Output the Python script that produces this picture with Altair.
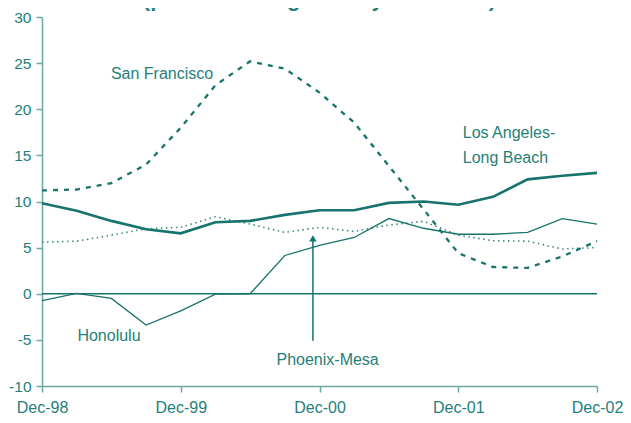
import json
import altair as alt
import pandas as pd

# ---- data ----
quarters = list(range(17))  # Dec-98 ... Dec-02, quarterly
tick_labels = ["Dec-98", "Dec-99", "Dec-00", "Dec-01", "Dec-02"]
tick_positions = [0, 4, 8, 12, 16]
y_ticks = [-10, -5, 0, 5, 10, 15, 20, 25, 30]

san_francisco = [11.2, 11.3, 12.0, 14.0, 18.0, 22.6, 25.2, 24.4, 21.8, 18.55, 13.85, 9.15, 4.4, 2.9, 2.8, 4.05, 5.7]
los_angeles = [9.8, 9.0, 7.9, 7.0, 6.55, 7.75, 7.9, 8.55, 9.05, 9.05, 9.85, 10.0, 9.65, 10.5, 12.4, 12.8, 13.1]
honolulu = [-0.75, 0.05, -0.5, -3.4, -1.85, -0.05, 0.0, 4.15, 5.25, 6.1, 8.15, 7.1, 6.45, 6.45, 6.65, 8.15, 7.55]
phoenix = [5.6, 5.7, 6.35, 7.05, 7.2, 8.35, 7.55, 6.65, 7.2, 6.75, 7.45, 7.85, 6.35, 5.75, 5.7, 4.85, 5.0]

label_text = ["San Francisco", "Los Angeles-", "Long Beach", "Honolulu", "Phoenix-Mesa"]
label_q = [3.46, 12.13, 12.13, 1.02, 6.76]
label_v = [23.25, 16.88, 14.2, -5.09, -7.72]
label_align = ["center", "left", "left", "left", "left"]

arrow_q = [7.81]
arrow_from = [-5.09]
arrow_to = [6.0]

title_text = "(percent change over year earlier)"

TEAL = "#17736c"
TEXT = "#25807a"
AXIS = "#6ea8a3"
FONT = "Liberation Sans"

label_expr = json.dumps(tick_labels) + "[datum.value / 4]"

x_enc = alt.X(
    "q:Q",
    scale=alt.Scale(domain=[0, 16], nice=False, zero=False),
    axis=alt.Axis(values=tick_positions, labelExpr=label_expr, title=None, grid=False,
                  tickSize=6, labelPadding=7, labelFontSize=16, labelFont=FONT,
                  labelColor=TEXT, domainColor=AXIS, tickColor=AXIS, domainWidth=1.5,
                  tickWidth=1.5, labelOverlap=False, labelFlush=False),
)
y_enc = alt.Y(
    "v:Q",
    scale=alt.Scale(domain=[-10, 30], nice=False, zero=False),
    axis=alt.Axis(values=y_ticks, labelExpr="toString(datum.value)", title=None, grid=False,
                  tickSize=6, labelPadding=5, labelFontSize=15.5, labelFont=FONT,
                  labelColor=TEXT, domainColor=AXIS, tickColor=AXIS, domainWidth=1.5,
                  tickWidth=1.5, labelFlush=False),
)


def series(vals):
    return pd.DataFrame({"q": quarters, "v": vals})


zero_line = alt.Chart(pd.DataFrame({"v": [0]})).mark_rule(color=TEAL, strokeWidth=1.3).encode(y=y_enc)

sf_line = alt.Chart(series(san_francisco)).mark_line(
    color=TEAL, strokeWidth=2.3, strokeDash=[5, 6]).encode(x=x_enc, y=y_enc)
la_line = alt.Chart(series(los_angeles)).mark_line(
    color=TEAL, strokeWidth=2.6).encode(x=x_enc, y=y_enc)
hon_line = alt.Chart(series(honolulu)).mark_line(
    color=TEAL, strokeWidth=1.3).encode(x=x_enc, y=y_enc)
phx_line = alt.Chart(series(phoenix)).mark_line(
    color="#3a8a83", strokeWidth=1.6, strokeDash=[1.5, 3.5]).encode(x=x_enc, y=y_enc)

labels_df = pd.DataFrame({"q": label_q, "v": label_v, "t": label_text, "a": label_align})
labels_center = alt.Chart(labels_df[labels_df.a == "center"]).mark_text(
    align="center", baseline="alphabetic", fontSize=16, font=FONT, color=TEXT
).encode(x=x_enc, y=y_enc, text="t:N")
labels_left = alt.Chart(labels_df[labels_df.a == "left"]).mark_text(
    align="left", baseline="alphabetic", fontSize=16, font=FONT, color=TEXT
).encode(x=x_enc, y=y_enc, text="t:N")

arrow_df = pd.DataFrame({"q": arrow_q, "v": arrow_from, "v2": arrow_to})
arrow_shaft = alt.Chart(arrow_df).mark_rule(color=TEAL, strokeWidth=1.5).encode(
    x=x_enc, y=y_enc, y2="v2:Q")
arrow_head = alt.Chart(pd.DataFrame({"q": arrow_q, "v": arrow_to})).mark_point(
    shape="triangle-up", filled=True, color=TEAL, size=55, opacity=1).encode(x=x_enc, y=y_enc)

chart = alt.layer(
    zero_line, phx_line, hon_line, la_line, sf_line, arrow_shaft, arrow_head,
    labels_center, labels_left,
).properties(
    width=555,
    height=369,
    title=alt.TitleParams(title_text, fontSize=22, font=FONT, color=TEXT, anchor="middle",
                          dy=5),
    autosize=alt.AutoSizeParams(type="none"),
    padding={"left": 34, "top": 9, "right": 26, "bottom": 29},
).configure_view(stroke=None)

chart.save("out.html", embed_options={"renderer": "svg", "actions": False})
